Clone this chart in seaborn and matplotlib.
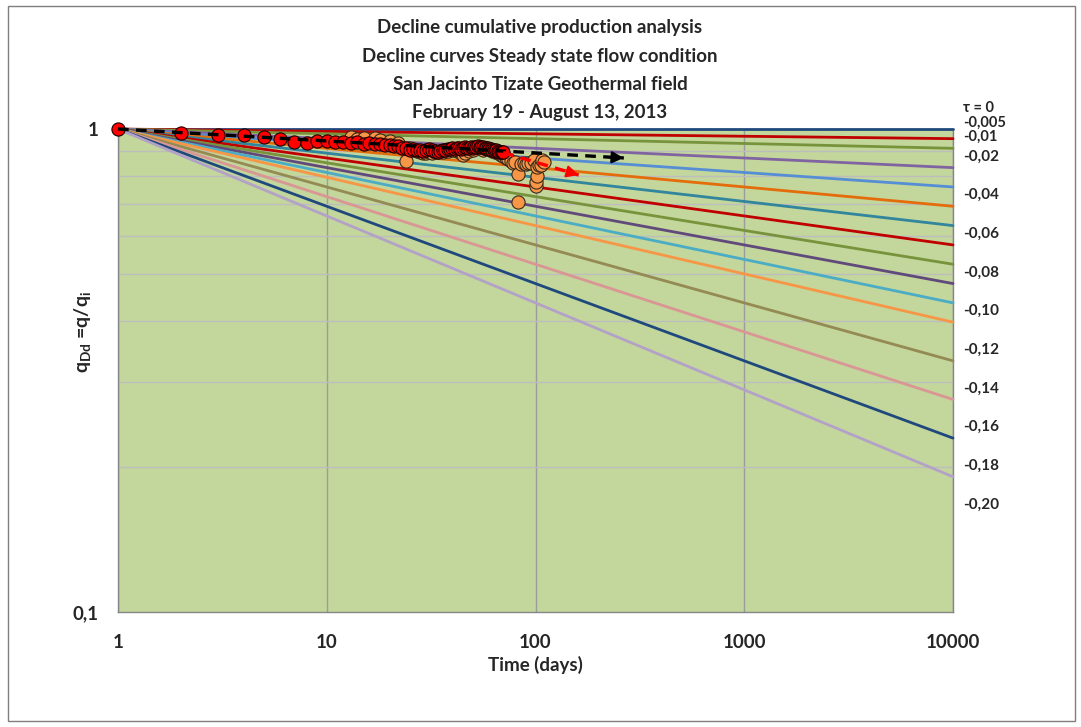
import numpy as np
import pandas as pd
import matplotlib
matplotlib.use("Agg")
import matplotlib.pyplot as plt
from matplotlib.patches import Rectangle
from matplotlib.ticker import FixedLocator, NullLocator
import seaborn as sns

# ---------------- data ----------------
taus = [0, -0.005, -0.01, -0.02, -0.03, -0.04, -0.05, -0.06, -0.07, -0.08,
        -0.09, -0.10, -0.12, -0.14, -0.16, -0.18]
tau_colors = ['#1F497D', '#C00000', '#77933C', '#8064A2', '#558ED5', '#E46C0A',
              '#31859C', '#C00000', '#77933C', '#604A7B', '#4BACC6', '#F79646',
              '#948A54', '#D99694', '#1F497D', '#B3A2C7']
curve_t = [1, 10000]

label_texts = ['τ = 0', '-0,005', '-0,01', '-0,02', '-0,04', '-0,06', '-0,08',
               '-0,10', '-0,12', '-0,14', '-0,16', '-0,18', '-0,20']
label_taus = [0, -0.005, -0.01, -0.02, -0.04, -0.06, -0.08, -0.10, -0.12,
              -0.14, -0.16, -0.18, -0.20]

red_t = list(range(1, 71))
red_q = [1.000, 0.981, 0.972, 0.972, 0.963, 0.955, 0.940, 0.935, 0.944, 0.944,
         0.940, 0.940, 0.937, 0.941, 0.933, 0.935, 0.930, 0.932, 0.926, 0.928,
         0.922, 0.920, 0.915, 0.912, 0.905, 0.908, 0.903, 0.906, 0.902, 0.905,
         0.908, 0.905, 0.900, 0.898, 0.902, 0.905, 0.903, 0.908, 0.910, 0.912,
         0.909, 0.913, 0.915, 0.911, 0.913, 0.916, 0.912, 0.915, 0.918, 0.915,
         0.919, 0.917, 0.920, 0.919, 0.916, 0.918, 0.915, 0.912, 0.914, 0.910,
         0.908, 0.906, 0.904, 0.902, 0.905, 0.900, 0.898, 0.897, 0.895, 0.896]

orange_t = [13, 14, 15, 17, 18, 20, 22, 24, 25, 26, 27, 28, 29, 30, 31, 32, 33,
            34, 35, 36, 38, 40, 42, 44, 45, 46, 48, 50, 52, 54, 56, 58, 60, 62,
            64, 66, 68, 70, 72, 74, 76, 78, 80, 82, 82, 85, 88, 90, 92, 95, 98,
            100, 101, 102, 102, 104, 106, 108, 110]
orange_q = [0.964, 0.955, 0.958, 0.956, 0.950, 0.945, 0.935, 0.860, 0.915, 0.905,
            0.900, 0.895, 0.892, 0.890, 0.896, 0.893, 0.898, 0.895, 0.900, 0.897,
            0.900, 0.905, 0.900, 0.892, 0.884, 0.890, 0.900, 0.905, 0.919, 0.912,
            0.905, 0.910, 0.908, 0.900, 0.895, 0.890, 0.885, 0.880, 0.872, 0.868,
            0.860, 0.849, 0.855, 0.806, 0.707, 0.845, 0.850, 0.848, 0.852, 0.849,
            0.863, 0.763, 0.776, 0.800, 0.836, 0.842, 0.842, 0.863, 0.855]

black_trend_t = [1, 265]
black_trend_q = [1.0, 0.871]
red_trend_t = [70, 161]
red_trend_q = [0.894, 0.803]

title_lines = ['Decline cumulative production analysis',
               'Decline curves Steady state flow condition',
               'San Jacinto Tizate Geothermal field',
               'February 19 - August 13, 2013']

# ---------------- style ----------------
sns.set_theme(style="white")
plt.rcParams['font.family'] = ['Lato', 'DejaVu Sans']
plt.rcParams['font.weight'] = 'bold'
plt.rcParams['mathtext.fontset'] = 'custom'
plt.rcParams['mathtext.rm'] = 'Lato:bold'
plt.rcParams['mathtext.it'] = 'Lato:bold'
plt.rcParams['mathtext.bf'] = 'Lato:bold'

W, H = 1081, 727
fig = plt.figure(figsize=(W / 100, H / 100), dpi=100)
fig.patch.set_facecolor('white')
ax = fig.add_axes([118 / W, 1 - 612 / H, 835 / W, 483 / H])
ax.set_facecolor('#C3D69B')
ax.set_xscale('log')
ax.set_yscale('log')

# type curves
rows = []
for tau in taus:
    for t in curve_t:
        rows.append({'t': t, 'q': t ** tau, 'tau': str(tau)})
curves = pd.DataFrame(rows)
sns.lineplot(data=curves, x='t', y='q', hue='tau', hue_order=[str(t) for t in taus],
             palette=tau_colors, linewidth=2.0, legend=False, ax=ax, sort=False,
             zorder=3)

# data points
sns.scatterplot(x=orange_t, y=orange_q, s=90, color='#F79646', edgecolor='#3A2A1A',
                linewidth=0.8, ax=ax, zorder=5, legend=False)
sns.scatterplot(x=red_t, y=red_q, s=90, color='#FF0000', edgecolor='#1A0000',
                linewidth=0.8, ax=ax, zorder=6, legend=False)

# trend arrows
def dashed_arrow(tt, qq, color):
    ax.plot(tt, qq, color=color, lw=2.4, dashes=(3.2, 2.2), zorder=7,
            solid_capstyle='butt', clip_on=False)
    lt0, lt1 = np.log10(tt[0]), np.log10(tt[1])
    lq0, lq1 = np.log10(qq[0]), np.log10(qq[1])
    f = 0.97
    start = (10 ** (lt0 + f * (lt1 - lt0)), 10 ** (lq0 + f * (lq1 - lq0)))
    ax.annotate('', xy=(tt[1], qq[1]), xytext=start,
                arrowprops=dict(arrowstyle='-|>,head_length=0.6,head_width=0.3',
                                color=color, lw=1.5, shrinkA=0, shrinkB=0),
                zorder=8)

dashed_arrow(black_trend_t, black_trend_q, 'black')
dashed_arrow(red_trend_t, red_trend_q, '#FF0000')

for art in ax.lines + ax.collections:
    art.set_clip_on(False)

ax.set_xlim(1, 10000)
ax.set_ylim(0.1, 1)

# grid
ax.xaxis.set_major_locator(FixedLocator([1, 10, 100, 1000, 10000]))
ax.xaxis.set_minor_locator(NullLocator())
ax.yaxis.set_major_locator(FixedLocator([0.1, 1]))
ax.yaxis.set_minor_locator(FixedLocator([0.2, 0.3, 0.4, 0.5, 0.6, 0.7, 0.8, 0.9]))
ax.set_xticklabels(['1', '10', '100', '1000', '10000'])
ax.set_yticklabels(['0,1', '1'])
ax.yaxis.set_minor_formatter(matplotlib.ticker.NullFormatter())
ax.grid(False)
ax.grid(True, which='major', axis='x', color='#9C9C9C', lw=1.0, zorder=1)
ax.grid(True, which='minor', axis='y', color='#BDBDBD', lw=1.0, zorder=1)
ax.set_axisbelow(True)

ax.tick_params(axis='x', which='major', direction='out', length=5, width=1,
               color='#868686', pad=11, labelsize=13.5)
ax.tick_params(axis='y', which='major', direction='out', length=4, width=1,
               color='#868686', pad=10, labelsize=13.5)
ax.tick_params(axis='y', which='minor', length=0)
for lab in ax.get_xticklabels() + ax.get_yticklabels():
    lab.set_fontweight('bold')

for side in ['left', 'bottom', 'right']:
    ax.spines[side].set_color('#868686')
    ax.spines[side].set_linewidth(1.0)
ax.spines['top'].set_visible(False)

ax.set_xlabel('Time (days)', fontsize=13.5, fontweight='bold')
ax.xaxis.set_label_coords(0.5, -(656 - 612) / 483)
ax.set_ylabel(r'q$_\mathrm{Dd}$ =q/q$_\mathrm{i}$', fontsize=14, fontweight='bold')
ax.yaxis.set_label_coords(-(118 - 93) / 835, 0.58)

# tau labels on the right
special = {0: (21, 10.5), -0.005: (16, 10.5), -0.01: (12, 10.5)}
for txt, tau in zip(label_texts, label_taus):
    off, fs = special.get(tau, (11, 11))
    ax.annotate(txt, xy=(1.0, 10000 ** tau), xycoords=('axes fraction', 'data'),
                xytext=(7, off * 0.72), textcoords='offset points',
                ha='left', va='center', fontsize=fs, fontweight='bold',
                annotation_clip=False)

# titles
for i, line in enumerate(title_lines):
    fig.text(540 / W, 1 - (28 + 28.3 * i) / H, line, ha='center', va='center',
             fontsize=13.5, fontweight='bold')

# chart border
fig.patches.append(Rectangle((8 / W, 1 - 721 / H), (1075 - 8) / W, (721 - 6) / H,
                             transform=fig.transFigure, fill=False,
                             edgecolor='#7F7F7F', lw=1.0))

fig.savefig('out.png', dpi=100)
